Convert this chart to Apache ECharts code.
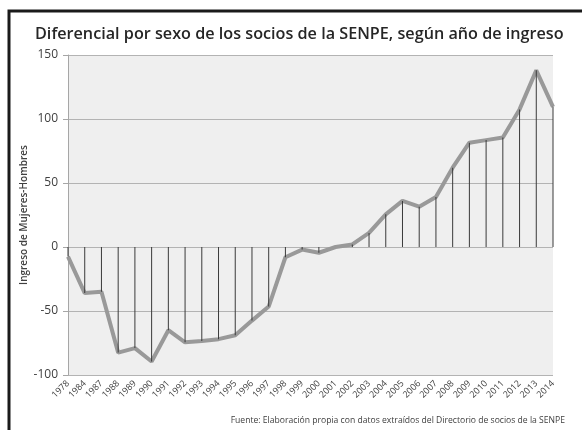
<!DOCTYPE html>
<html>
<head>
<meta charset="utf-8">
<script src="https://cdn.jsdelivr.net/npm/echarts@6/dist/echarts.min.js"></script>
<style>
  html, body { margin: 0; padding: 0; background: #fff; }
  #main { width: 582px; height: 430px; }
</style>
</head>
<body>
<div id="main"></div>
<script>
var years = ['1978','1984','1987','1988','1989','1990','1991','1992','1993','1994','1995','1996','1997','1998','1999','2000',
  '2001','2002','2003','2004','2005','2006','2007','2008','2009','2010','2011','2012','2013','2014']
var diferencial = [-7.5,-36,-35,-82.5,-79,-89.5,-65,-74.5,-73.5,-72,-69,-57.5,-46.5,-8,-2,-4.5,
  0,2,11,25.5,36,31.5,39,62,81.5,83.5,85.5,107.5,138,109.5]
var yTicks = { min: -100, max: 150, interval: 50 }

function main() {
  var myChart = echarts.init(document.getElementById('main'))
  var option = {
    animation: false,
    backgroundColor: '#fff',
    textStyle: { fontFamily: 'Open Sans' },
    title: {
      text: 'Diferencial por sexo de los socios de la SENPE, según año de ingreso',
      left: 30,
      top: 21,
      textStyle: { fontSize: 16.2, fontWeight: 600, color: '#262626', fontFamily: 'Open Sans' }
    },
    graphic: [
      {
        type: 'rect',
        shape: { x: 9, y: 11, width: 600, height: 450 },
        style: { fill: 'none', stroke: '#1a1a1a', lineWidth: 3 },
        z: 100
      },
      {
        type: 'text',
        right: 17,
        top: 416,
        style: {
          text: 'Fuente: Elaboración propia con datos extraídos del Directorio de socios de la SENPE',
          fontSize: 8.6, fill: '#404040', fontFamily: 'Open Sans'
        }
      }
    ],
    grid: { left: 68, right: 29, top: 55, bottom: 55, show: true, backgroundColor: '#efefef', borderWidth: 0 },
    xAxis: {
      type: 'category',
      data: years,
      boundaryGap: false,
      axisLine: { show: false },
      axisTick: { show: false },
      axisLabel: { rotate: 45, fontSize: 9, color: '#404040', margin: 7, interval: 0 },
      splitLine: { show: false }
    },
    yAxis: {
      type: 'value',
      min: yTicks.min,
      max: yTicks.max,
      interval: yTicks.interval,
      name: 'Ingreso de Mujeres-Hombres',
      nameLocation: 'middle',
      nameMoveOverlap: false,
      nameGap: 39,
      nameTextStyle: { fontSize: 10, fontWeight: 600, color: '#404040' },
      axisLine: { show: true, lineStyle: { color: '#a6a6a6' } },
      axisTick: { show: true, length: 5, lineStyle: { color: '#a6a6a6' } },
      axisLabel: { fontSize: 12, color: '#404040', margin: 10 },
      splitLine: { show: true, lineStyle: { color: '#b3b3b3', width: 1 } }
    },
    series: [
      {
        type: 'bar',
        data: diferencial,
        barWidth: 1,
        itemStyle: { color: '#3a3a3a' },
        z: 3
      },
      {
        type: 'line',
        data: diferencial,
        symbol: 'none',
        lineStyle: { color: '#999999', width: 4 },
        z: 2
      }
    ]
  }
  myChart.setOption(option)
}

window.onload = main
</script>
</body>
</html>
